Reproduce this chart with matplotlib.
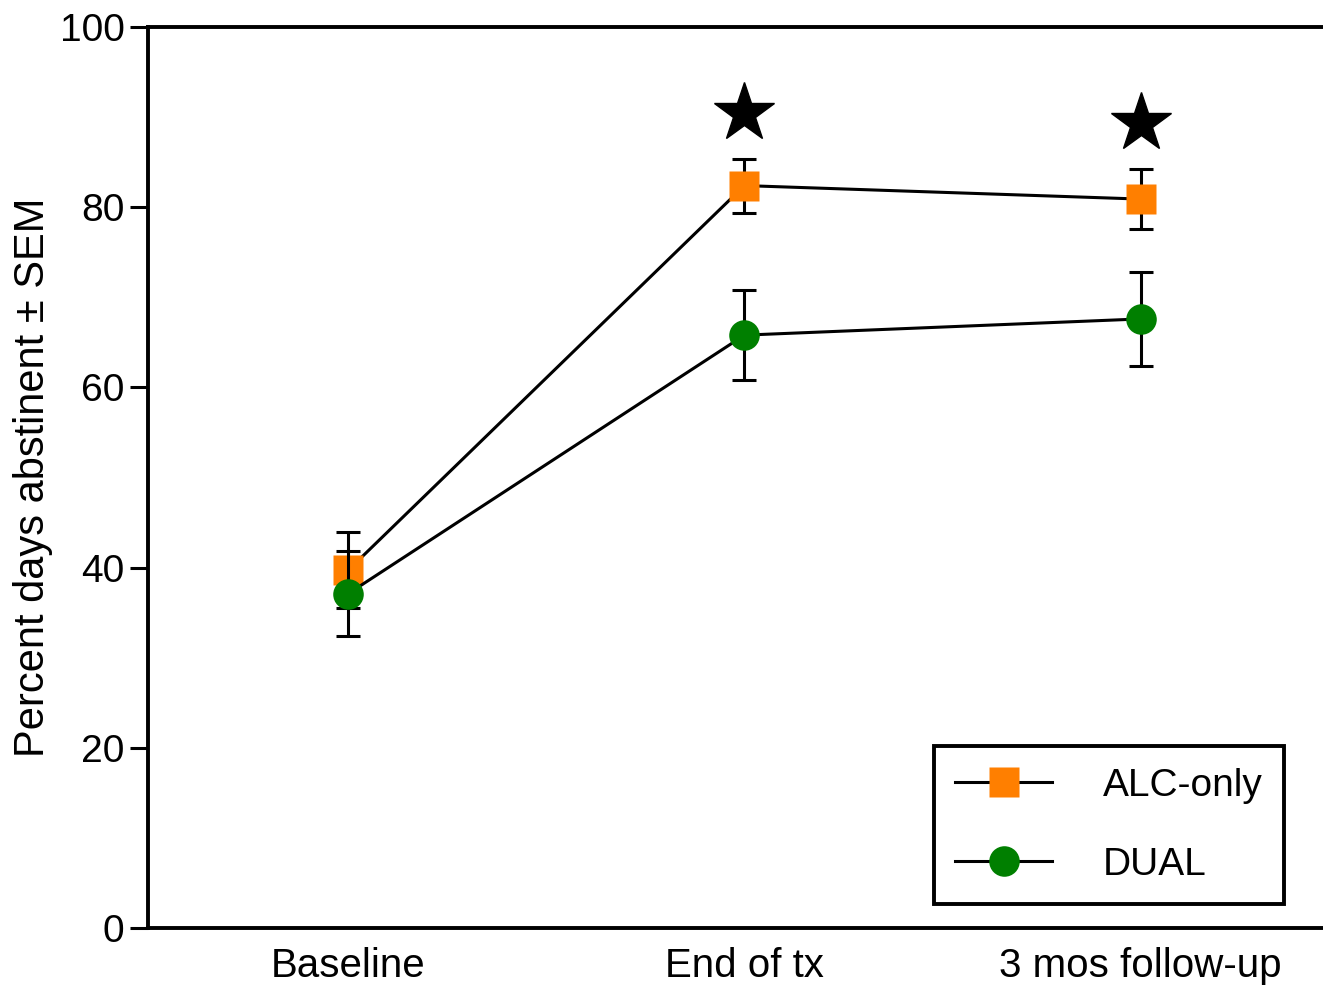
import numpy as np
import matplotlib.pyplot as plt

plt.rcParams['font.family'] = ['Liberation Sans', 'DejaVu Sans']

# Data
timepoints = ['Baseline', 'End of tx', '3 mos follow-up']
alc_mean = [39.7, 82.4, 80.9]
alc_sem = [4.2, 3.0, 3.3]
dual_mean = [37.1, 65.8, 67.6]
dual_sem = [4.7, 5.0, 5.2]
star_x = [1, 2]
star_y = [90.4, 89.3]

x = np.arange(len(timepoints))

fig = plt.figure(figsize=(13.23, 9.86), dpi=100)
ax = fig.add_axes([148 / 1323, 58 / 986, 1 - 148 / 1323, 901 / 986])

lw = 2.2
ax.errorbar(x, alc_mean, yerr=alc_sem, fmt='none', ecolor='black',
            elinewidth=lw, capsize=8.5, capthick=lw, zorder=2)
ax.plot(x, alc_mean, '-', color='black', lw=lw, marker='s', markersize=22,
        markerfacecolor='#ff7f00', markeredgecolor='none', label='ALC-only', zorder=3)
ax.errorbar(x, dual_mean, yerr=dual_sem, fmt='none', ecolor='black',
            elinewidth=lw, capsize=8.5, capthick=lw, zorder=4)
ax.plot(x, dual_mean, '-', color='black', lw=lw, marker='o', markersize=22,
        markerfacecolor='#007f00', markeredgecolor='none', label='DUAL', zorder=5)

# significance stars
ax.plot(star_x, star_y, linestyle='none', marker='*', markersize=45,
        color='black', zorder=6)

ax.set_xlim(-0.505, 2.46)
ax.set_ylim(0, 100)
ax.set_yticks([0, 20, 40, 60, 80, 100])
ax.set_xticks(x)
ax.set_xticklabels(timepoints)
ax.tick_params(axis='y', length=13, width=lw, labelsize=28, pad=4)
ax.tick_params(axis='x', length=0, labelsize=29, pad=14)
ax.set_ylabel('Percent days abstinent \u00b1 SEM', fontsize=30, labelpad=5)

for side in ['left', 'bottom', 'top']:
    ax.spines[side].set_linewidth(2.8)
ax.spines['right'].set_visible(False)

leg = ax.legend(loc='lower right', bbox_to_anchor=(0.9668, 0.0266),
                fontsize=28, frameon=True, fancybox=False, framealpha=1,
                edgecolor='black', handlelength=2.5, handletextpad=1.3,
                labelspacing=1.1, borderpad=0.55, borderaxespad=0)
leg.get_frame().set_linewidth(2.8)

fig.savefig('out.png', dpi=100)
